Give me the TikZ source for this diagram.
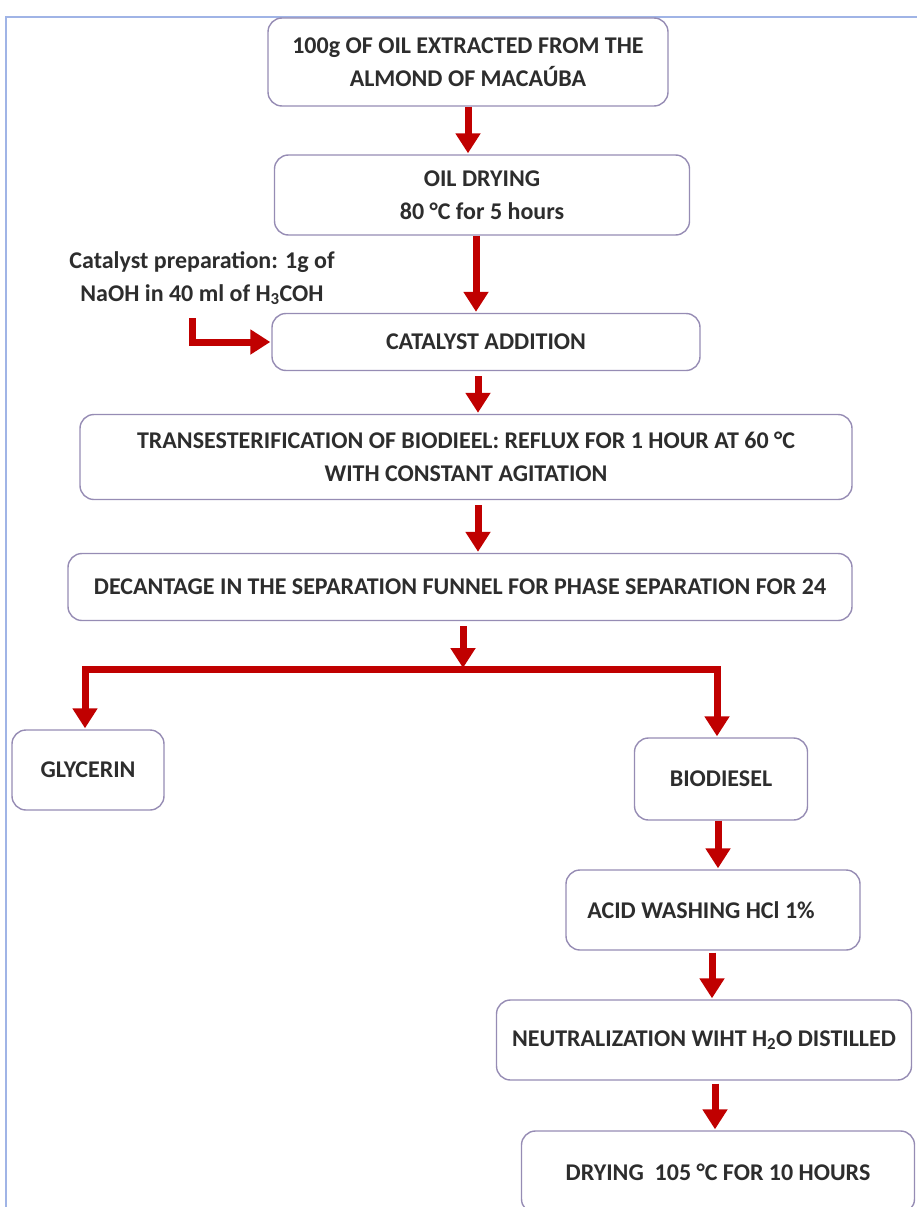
\documentclass[tikz,border=0pt]{standalone}
\usepackage{fontspec}
\setmainfont{Carlito}
\usetikzlibrary{arrows.meta}
\definecolor{arrred}{RGB}{192,0,0}
\definecolor{boxline}{RGB}{150,140,180}
\definecolor{frameblue}{RGB}{160,180,230}
\definecolor{txt}{RGB}{45,45,45}
\tikzset{
  stepbox/.style={draw=boxline, line width=1.4pt, rounded corners=14pt, fill=white,
    text=txt, align=center, inner sep=0pt,
    font=\bfseries\fontsize{24}{33}\selectfont},
  arr/.style={draw=arrred, line width=7pt,
    -{Triangle[width=24pt,length=20pt]}, shorten >=1pt},
}
\begin{document}
\begin{tikzpicture}[x=1pt,y=-1pt]
\useasboundingbox (0,0) rectangle (917,1207);
\draw[frameblue, line width=2.5pt] (6,1210) -- (6,17) -- (920,17);

\node[stepbox, minimum width=400pt, minimum height=88pt] (b1) at (468,62)
  {100g OF OIL EXTRACTED FROM THE\\ALMOND OF MACAÚBA};
\node[stepbox, minimum width=415pt, minimum height=80pt] (b2) at (482,195)
  {OIL DRYING\\80 °C for 5 hours};
\node[stepbox, minimum width=428pt, minimum height=57pt] (b3) at (486,342)
  {CATALYST ADDITION};
\node[stepbox, minimum width=772pt, minimum height=85pt] (b4) at (466,457)
  {TRANSESTERIFICATION OF BIODIEEL: REFLUX FOR 1 HOUR AT 60 °C\\WITH CONSTANT AGITATION};
\node[stepbox, minimum width=784pt, minimum height=67pt] (b5) at (460,587)
  {DECANTAGE IN THE SEPARATION FUNNEL FOR PHASE SEPARATION FOR 24};
\node[stepbox, minimum width=152pt, minimum height=80pt] (gly) at (88,770)
  {GLYCERIN};
\node[stepbox, minimum width=173pt, minimum height=82pt] (bio) at (721,779)
  {BIODIESEL};
\node[stepbox, minimum width=294pt, minimum height=80pt] (acid) at (713,910)
  {\hspace*{-24pt}ACID WASHING HCl 1\%};
\node[stepbox, minimum width=415pt, minimum height=80pt] (neut) at (704,1040)
  {NEUTRALIZATION WIHT H\textsubscript{2}O DISTILLED};
\node[stepbox, minimum width=393pt, minimum height=82pt] (dry) at (718,1172)
  {DRYING\ \ 105 °C FOR 10 HOURS};

\node[text=txt, align=center, font=\bfseries\fontsize{24}{33}\selectfont] (cat) at (202,278)
  {Catalyst preparation: 1g of\\NaOH in 40 ml of H\textsubscript{3}COH};

\coordinate (j) at (463,669);
\coordinate (cs) at (192,318);

\draw[arr] (b1.south) -- (b1.south |- b2.north);
\draw[arr] ([xshift=-6pt]b2.south) -- ([xshift=-6pt]b2.south |- b3.north);
\draw[arr] ([xshift=-8pt]b3.south) ++(0,5) -- ([xshift=-8pt]b3.south |- b4.north);
\draw[arr] ([xshift=12pt]b4.south) ++(0,5) -- ([xshift=12pt]b4.south |- b5.north);
\draw[arr] ([xshift=3pt]b5.south) ++(0,5) -- (j);
\draw[arr] (j) -| ([xshift=-3pt]gly.north);
\draw[arr] (j) -| ([xshift=-4pt]bio.north);
\draw[arr] ([xshift=-3pt]bio.south) -- ([xshift=-3pt]bio.south |- acid.north);
\draw[arr] ([xshift=-1pt]acid.south) ++(0,2) -- ([xshift=-1pt]acid.south |- neut.north);
\draw[arr] ([xshift=11pt]neut.south) ++(0,3) -- ([xshift=11pt]neut.south |- dry.north);
\draw[arr] (cs) |- (b3.west);
\end{tikzpicture}
\end{document}
